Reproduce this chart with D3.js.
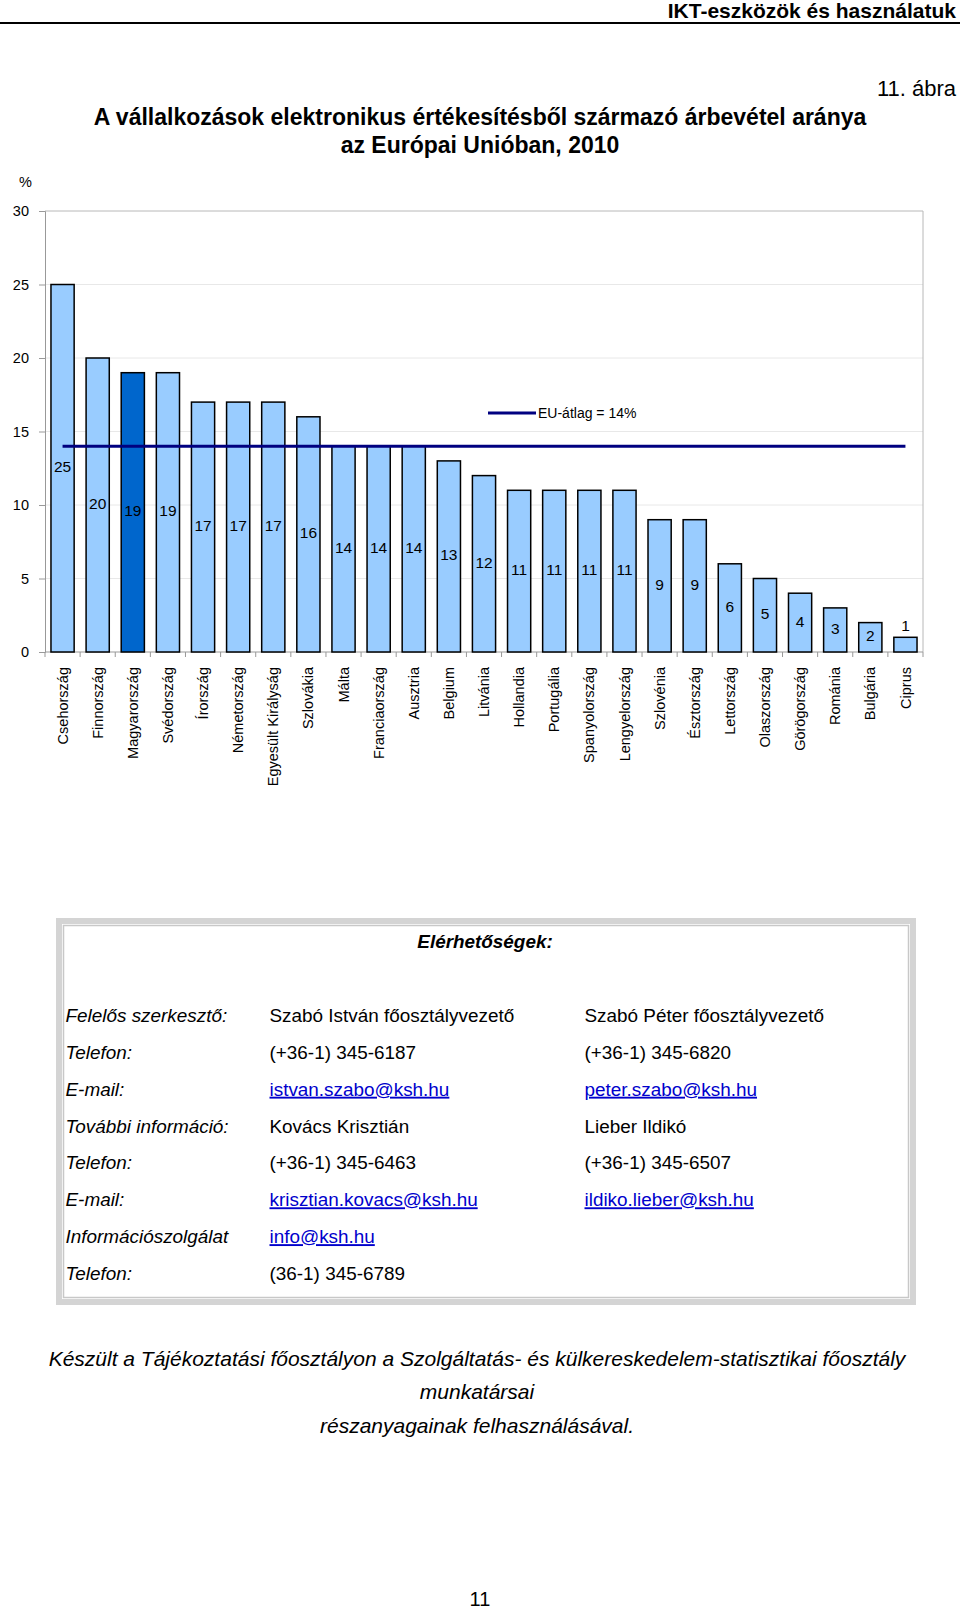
<!DOCTYPE html>
<html>
<head>
<meta charset="utf-8">
<script src="https://cdn.jsdelivr.net/npm/d3@7"></script>
<style>
  body { margin: 0; background: #fff; }
  svg { display: block; font-family: "Liberation Sans", Arial, sans-serif; }
  .link { fill: #0000cc; text-decoration: underline; }
</style>
</head>
<body>
<svg class="page" width="960" height="1609"></svg>
<script>
var countries = ["Csehország", "Finnország", "Magyarország", "Svédország", "Írország", "Németország",
  "Egyesült Királyság", "Szlovákia", "Málta", "Franciaország", "Ausztria", "Belgium", "Litvánia",
  "Hollandia", "Portugália", "Spanyolország", "Lengyelország", "Szlovénia", "Észtország",
  "Lettország", "Olaszország", "Görögország", "Románia", "Bulgária", "Ciprus"];
var values = [25, 20, 19, 19, 17, 17, 17, 16, 14, 14, 14, 13, 12, 11, 11, 11, 11, 9, 9, 6, 5, 4, 3, 2, 1];
var highlighted = "Magyarország";
var euAvg = 14;
var yTicks = [0, 5, 10, 15, 20, 25, 30];

var contactLabels = ["Felelős szerkesztő:", "Telefon:", "E-mail:", "További információ:", "Telefon:", "E-mail:", "Információszolgálat", "Telefon:"];
var contactCol1 = ["Szabó István főosztályvezető", "(+36-1) 345-6187", "istvan.szabo@ksh.hu", "Kovács Krisztián", "(+36-1) 345-6463", "krisztian.kovacs@ksh.hu", "info@ksh.hu", "(36-1) 345-6789"];
var contactCol2 = ["Szabó Péter főosztályvezető", "(+36-1) 345-6820", "peter.szabo@ksh.hu", "Lieber Ildikó", "(+36-1) 345-6507", "ildiko.lieber@ksh.hu", "", ""];
var footerLines = ["Készült a Tájékoztatási főosztályon a Szolgáltatás- és külkereskedelem-statisztikai főosztály",
  "munkatársai", "részanyagainak felhasználásával."];

var svg = d3.select(".page");
var data = countries.map(function(c, i) { return {name: c, value: values[i]}; });

// page header
svg.append("text").attr("x", 956).attr("y", 18).attr("text-anchor", "end")
    .style("font-weight", "bold").style("font-size", "21px").text("IKT-eszközök és használatuk");
svg.append("line").attr("x1", 0).attr("x2", 960).attr("y1", 23).attr("y2", 23)
    .attr("stroke", "#000").attr("stroke-width", 2);
svg.append("text").attr("x", 956).attr("y", 96).attr("text-anchor", "end")
    .style("font-size", "22px").text("11. ábra");

svg.append("text").attr("x", 480).attr("y", 125).attr("text-anchor", "middle")
    .style("font-weight", "bold").style("font-size", "23px")
    .text("A vállalkozások elektronikus értékesítésből származó árbevétel aránya");
svg.append("text").attr("x", 480).attr("y", 153).attr("text-anchor", "middle")
    .style("font-weight", "bold").style("font-size", "23px")
    .text("az Európai Unióban, 2010");

// chart
var plotLeft = 45, plotRight = 923, plotTop = 211, plotBottom = 652;
var x = d3.scaleBand().domain(countries).range([plotLeft, plotRight]).paddingInner(0.34).paddingOuter(0.17);
var y = d3.scaleLinear().domain([0, 30]).range([plotBottom, plotTop]);

svg.append("text").attr("x", 19).attr("y", 187).style("font-size", "14.5px").text("%");

var g = svg.append("g");

g.selectAll(".grid")
    .data(yTicks.filter(function(d) { return d > 0 && d < 30; }))
  .enter().append("line")
    .attr("class", "grid")
    .attr("x1", plotLeft).attr("x2", plotRight)
    .attr("y1", function(d) { return y(d); }).attr("y2", function(d) { return y(d); })
    .attr("stroke", "#e8e8e8");

// frame top and right
g.append("line").attr("x1", plotLeft).attr("x2", plotRight).attr("y1", y(30)).attr("y2", y(30)).attr("stroke", "#b8b8b8");
g.append("line").attr("x1", plotRight).attr("x2", plotRight).attr("y1", y(30)).attr("y2", plotBottom).attr("stroke", "#b8b8b8");

var yAxis = g.append("g")
    .attr("transform", "translate(" + plotLeft + ",0)")
    .call(d3.axisLeft(y).tickValues(yTicks).tickSize(6).tickPadding(10));
yAxis.select(".domain").attr("stroke", "#999");
yAxis.selectAll(".tick line").attr("stroke", "#999");
yAxis.selectAll(".tick text").style("font-size", "14.5px").style("font-family", "inherit").attr("fill", "#000");

var step = x.step();
var xTickPos = d3.range(countries.length + 1).map(function(i) { return plotLeft + i * step; });
g.append("line").attr("x1", plotLeft).attr("x2", plotRight).attr("y1", plotBottom).attr("y2", plotBottom).attr("stroke", "#999");
g.selectAll(".xtick")
    .data(xTickPos)
  .enter().append("line")
    .attr("class", "xtick")
    .attr("x1", function(d) { return d; }).attr("x2", function(d) { return d; })
    .attr("y1", plotBottom).attr("y2", plotBottom + 5)
    .attr("stroke", "#999");

g.selectAll(".bar")
    .data(data)
  .enter().append("rect")
    .attr("class", "bar")
    .attr("x", function(d) { return x(d.name); })
    .attr("y", function(d) { return y(d.value); })
    .attr("width", x.bandwidth())
    .attr("height", function(d) { return plotBottom - y(d.value); })
    .attr("fill", function(d) { return d.name == highlighted ? "#0066cc" : "#99ccff"; })
    .attr("stroke", "#000")
    .attr("stroke-width", 1.5);

// EU average line
g.append("line")
    .attr("x1", x(countries[0]) + x.bandwidth() / 2)
    .attr("x2", x(countries[countries.length - 1]) + x.bandwidth() / 2)
    .attr("y1", y(euAvg)).attr("y2", y(euAvg))
    .attr("stroke", "#000080").attr("stroke-width", 3);

g.selectAll(".val")
    .data(data)
  .enter().append("text")
    .attr("class", "val")
    .attr("x", function(d) { return x(d.name) + x.bandwidth() / 2; })
    .attr("y", function(d) {
      return (plotBottom - y(d.value)) < 20 ? y(d.value) - 6 : y(d.value / 2) + 4;
    })
    .attr("text-anchor", "middle")
    .style("font-size", "15.5px")
    .text(function(d) { return d.value; });

g.selectAll(".cat")
    .data(countries)
  .enter().append("text")
    .attr("class", "cat")
    .attr("transform", function(d) { return "translate(" + (x(d) + x.bandwidth() / 2) + "," + 667 + ") rotate(-90)"; })
    .attr("dy", "0.35em")
    .attr("text-anchor", "end")
    .style("font-size", "14.5px")
    .text(function(d) { return d; });

// legend
g.append("line").attr("x1", 488).attr("x2", 536).attr("y1", 413).attr("y2", 413)
    .attr("stroke", "#000080").attr("stroke-width", 3);
g.append("text").attr("x", 538).attr("y", 418).style("font-size", "14px").text("EU-átlag = " + euAvg + "%");

// contacts box
var box = svg.append("g");
box.append("rect").attr("x", 56).attr("y", 918).attr("width", 860).attr("height", 387).attr("fill", "#d4d4d4");
box.append("rect").attr("x", 62).attr("y", 924).attr("width", 848).attr("height", 375).attr("fill", "#fff");
box.append("rect").attr("x", 63.5).attr("y", 925.5).attr("width", 845).attr("height", 372)
    .attr("fill", "none").attr("stroke", "#c8c8c8").attr("stroke-width", 1.5);

box.append("text").attr("x", 485).attr("y", 948).attr("text-anchor", "middle")
    .style("font-weight", "bold").style("font-style", "italic").style("font-size", "18.9px")
    .text("Elérhetőségek:");

var rowY = d3.scaleLinear().domain([0, 7]).range([1022, 1280]);
var isLink = function(s) { return s.indexOf("@") >= 0; };

box.selectAll(".clabel")
    .data(contactLabels)
  .enter().append("text")
    .attr("x", 65.5).attr("y", function(d, i) { return rowY(i); })
    .style("font-style", "italic").style("font-size", "18.9px")
    .text(function(d) { return d; });

[[contactCol1, 269.5], [contactCol2, 584.5]].forEach(function(col) {
  box.selectAll(null)
      .data(col[0])
    .enter().append("text")
      .attr("class", function(d) { return isLink(d) ? "link" : null; })
      .attr("x", col[1]).attr("y", function(d, i) { return rowY(i); })
      .style("font-size", "18.9px")
      .text(function(d) { return d; });
});

// footer
svg.selectAll(".foot")
    .data(footerLines)
  .enter().append("text")
    .attr("class", "foot")
    .attr("x", 477).attr("y", function(d, i) { return 1366 + i * 33.3; })
    .attr("text-anchor", "middle")
    .style("font-style", "italic").style("font-size", "21px")
    .text(function(d) { return d; });

svg.append("text").attr("x", 480).attr("y", 1606).attr("text-anchor", "middle")
    .style("font-size", "20px").text("11");
</script>
</body>
</html>
